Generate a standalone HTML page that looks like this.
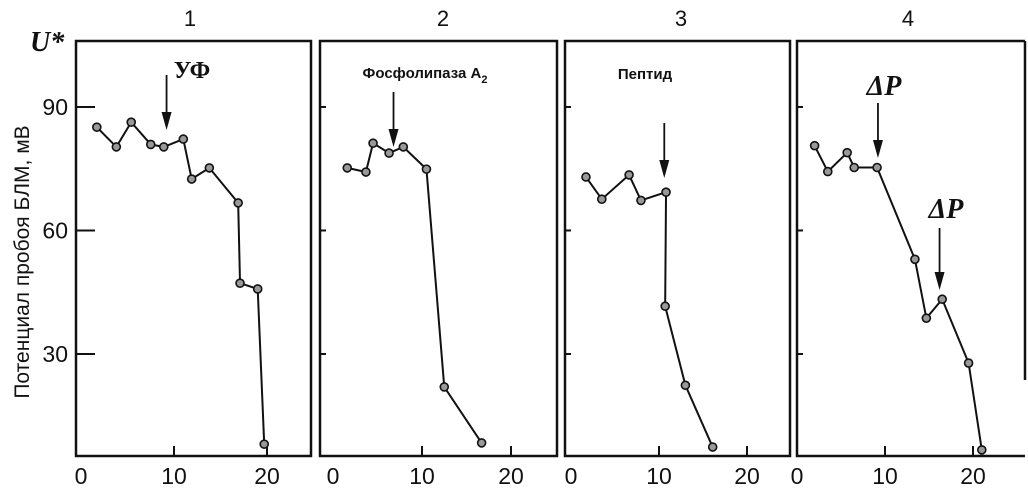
<!DOCTYPE html>
<html><head><meta charset="utf-8"><style>
body{margin:0;background:#fff}
</style></head><body>
<svg id="c" width="1028" height="488" viewBox="0 0 1028 488" xmlns="http://www.w3.org/2000/svg" font-family="Liberation Sans, sans-serif"></svg>
<script>
const panelTitles = ["1","2","3","4"];
const yTicks = [30,60,90];
const xTicks = [0,10,20];
const p1x = [1.7,3.8,5.4,7.5,8.9,11,11.9,13.8,16.9,17.1,19,19.7];
const p1y = [85.1,80.3,86.3,80.9,80.3,82.2,72.5,75.2,66.7,47.2,45.8,8.1];
const p2x = [1.6,3.7,4.5,6.3,7.9,10.5,12.5,16.7];
const p2y = [75.2,74.2,81.2,78.8,80.3,74.9,22,8.4];
const p3x = [1.7,3.5,6.6,7.95,10.8,10.7,13,16.1];
const p3y = [73,67.6,73.5,67.3,69.3,41.6,22.4,7.4];
const p4x = [2,3.5,5.7,6.5,9.1,13.4,14.7,16.5,19.5,21];
const p4y = [80.6,74.3,78.9,75.3,75.3,53,38.7,43.3,27.8,6.7];
const annotations = [["УФ",9.2],["Фосфолипаза A",6.8],["Пептид",10.6],["ΔP",9.2],["ΔP",16.2]];

const NS="http://www.w3.org/2000/svg", svg=document.getElementById('c');
function el(t,a,p){const e=document.createElementNS(NS,t);for(const k in a)e.setAttribute(k,a[k]);(p||svg).appendChild(e);return e;}
const Y0=477.5,KY=4.117; const y=v=>Y0-v*KY;
const panels=[
 {l:76,r:311,x0:81,k:9.3,xs:p1x,ys:p1y,tx:190},
 {l:320,r:557,x0:333,k:8.9,xs:p2x,ys:p2y,tx:443},
 {l:565,r:790,x0:571,k:8.8,xs:p3x,ys:p3y,tx:681},
 {l:797,r:1025,x0:797,k:8.8,xs:p4x,ys:p4y,tx:908}];
const TOP=41,BOT=456;
panels.forEach((p,i)=>{
 const g=el('g',{});  
 const X=v=>p.x0+v*p.k;
 if(i<3){const fr=el('rect',{x:p.l,y:TOP,width:p.r-p.l,height:BOT-TOP,fill:'none',stroke:'#111','stroke-width':2.5},g);}
 else{const fr=el('path',{d:`M${p.r} 41 L${p.l} ${TOP} L${p.l} ${BOT} L${p.r} ${BOT} M${p.r} 41 L${p.r} 380`,fill:'none',stroke:'#111','stroke-width':2.5},g);}
 const t=el('text',{x:p.tx,y:26,'font-size':22,'text-anchor':'middle',fill:'#111'},g);t.textContent=panelTitles[i];
 
 xTicks.forEach(v=>{
  if(v>0){const tk=el('line',{x1:X(v),x2:X(v),y1:BOT,y2:BOT-10,stroke:'#111','stroke-width':2},g);}
  const lt=el('text',{x:X(v),y:484,'font-size':23,'text-anchor':'middle',fill:'#111'},g);lt.textContent=v;
  
 });
 yTicks.forEach(v=>{const tk=el('line',{x1:p.l,x2:p.l+(i==0?19:6),y1:y(v),y2:y(v),stroke:'#111','stroke-width':2},g);});
 const pts=p.xs.map((v,j)=>X(v)+','+y(p.ys[j])).join(' ');
 const ln=el('polyline',{points:pts,fill:'none',stroke:'#111','stroke-width':2},g);
 
 p.xs.forEach((v,j)=>{const c=el('circle',{cx:X(v),cy:y(p.ys[j]),r:4,fill:'#999',stroke:'#111','stroke-width':1.6},g);
  });
});
yTicks.forEach(v=>{const t=el('text',{x:68,y:y(v)+8,'font-size':23,'text-anchor':'end',fill:'#111'});t.textContent=v;
 });
const yl=el('text',{x:0,y:0,'font-size':21,'text-anchor':'middle',fill:'#111',transform:'translate(29,262) rotate(-90)'});
yl.textContent='Потенциал пробоя БЛМ, мВ';
const u=el('text',{x:30,y:51,'font-size':28,'font-weight':'bold','font-style':'italic',fill:'#111',style:'font-family:"Liberation Serif",serif'});
u.textContent='U*';
function arrow(xp,y1,y2,name){const g=el('g',{});
 el('line',{x1:xp,x2:xp,y1:y1,y2:y2-12,stroke:'#111','stroke-width':1.8},g);
 el('polygon',{points:`${xp-5},${y2-18} ${xp+5},${y2-18} ${xp},${y2}`,fill:'#111'},g);}
const ann=[[0,annotations[0],75,130,192,78,24,'serif'],[1,annotations[1],92,147,425,78,15,'sans'],[2,annotations[2],123,178,645,79,15,'sans'],[3,annotations[3],103,158,884,95,28,'serif'],[3,annotations[4],228,290,946,218,28,'serif']];
ann.forEach(([pi,a,y1,y2,lx,ly,fs,f],k)=>{const p=panels[pi];const xp=p.x0+a[1]*p.k;arrow(xp,y1,y2,'event-arrow');
 const t=el('text',{x:lx,y:ly,'font-size':fs,'font-weight':'bold','text-anchor':'middle',fill:'#111',style:f=='serif'?'font-family:"Liberation Serif",serif':'font-family:"Liberation Sans",sans-serif','font-style':a[0]=='ΔP'?'italic':'normal'});
 t.textContent=a[0];
 if(k==1){const s=el('tspan',{'font-size':11,dy:5},t);s.textContent='2';}
});
</script>
</body></html>
